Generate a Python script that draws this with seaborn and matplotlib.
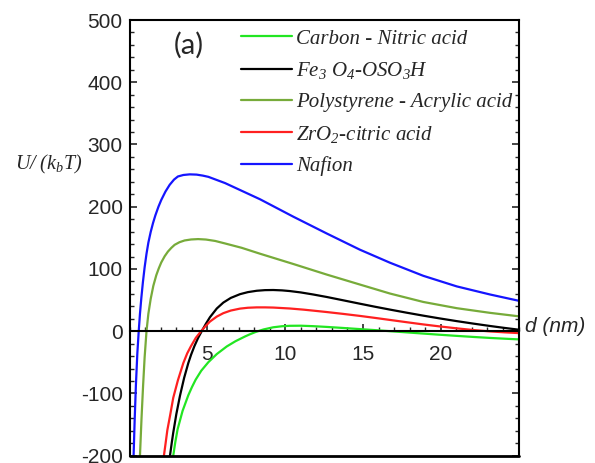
import matplotlib
matplotlib.use("Agg")
import matplotlib.pyplot as plt
import seaborn as sns
from matplotlib.ticker import MultipleLocator, FixedLocator

# ---- data ----
carbon_d = [2.8, 2.93, 3.08, 3.4, 3.77, 4.0, 4.24, 4.6, 5.06, 5.6, 6.24, 6.8, 7.42, 7.75, 8.1, 8.6, 9.23,
            9.8, 10.3, 11.0, 11.8, 12.67, 13.7, 14.8, 15.8, 16.74, 17.8, 18.88, 19.9, 21.03, 22.1, 23.17, 24.1, 25.0]
carbon_u = [-200, -178.5, -157.5, -128, -102.8, -89.9, -77.9, -63.5, -49.7, -36.7, -24.5, -16.1, -8.4, -4.7, -1.2, 2.8, 6.3,
            8.0, 8.7, 8.85, 8.1, 6.9, 5.25, 3.4, 1.7, 0.05, -1.85, -3.8, -5.6, -7.5, -9.2, -10.8, -12.0, -13.1]

fe_d = [2.59, 2.7, 2.8, 3.0, 3.23, 3.5, 3.77, 3.95, 4.16, 4.4, 4.63, 4.9, 5.16, 5.6, 6.02, 6.5, 7.09, 7.6,
        8.17, 8.7, 9.23, 9.8, 10.3, 11.0, 11.8, 12.67, 13.7, 14.8, 15.8, 16.74, 17.8, 18.88, 19.9, 21.03,
        22.1, 23.17, 24.1, 25.0]
fe_u = [-200, -180, -163, -133, -104, -75, -51, -37.6, -24, -10.7, 0, 12, 22.5, 36.5, 46, 53.5, 59.5, 62.8,
        65, 66, 66.2, 65.6, 64.5, 62.3, 59, 55, 49.8, 44.2, 39.2, 34.7, 29.8, 25, 20.7, 16.2,
        12.2, 8.4, 5.3, 2.5]

poly_d = [0.66, 0.76, 0.86, 0.96, 1.08, 1.2, 1.35, 1.52, 1.71, 1.87, 2.03, 2.25, 2.46, 2.68, 2.89, 3.2,
          3.53, 3.95, 4.4, 4.9, 5.5, 6.13, 7.2, 8.38, 10.52, 12.67, 14.8, 16.74, 18.88, 21.03, 23.17, 25.0]
poly_u = [-200, -140, -88, -42, 0, 28, 52, 73, 90, 101, 110.5, 120.5, 128, 134, 138.8, 143,
          145.8, 147.4, 148, 147.3, 145, 141, 134, 124.5, 108, 91, 75, 60.5, 47, 37, 29.5, 24]

zr_d = [2.2, 2.3, 2.42, 2.6, 2.8, 3.1, 3.45, 3.7, 3.94, 4.25, 4.59, 4.85, 5.16, 5.6, 6.02, 6.5, 7.09, 7.6,
        8.17, 8.7, 9.23, 10.3, 11.2, 12.02, 12.67, 13.7, 14.8, 15.8, 16.74, 17.8, 18.88, 19.9, 21.03,
        22.1, 23.17, 24.1, 25.0]
zr_u = [-200, -181.6, -159, -135, -107, -78.8, -51, -35.5, -24, -10.7, 0, 7.5, 15.5, 23.5, 29, 33.2, 36.3, 37.7,
        38.3, 38.3, 38, 36.5, 34.6, 32.5, 30.8, 27.9, 24.6, 21.3, 18.1, 14.5, 10.9, 7.8, 4.6,
        1.9, -0.3, -1.8, -3]

naf_d = [0.25, 0.32, 0.4, 0.49, 0.58, 0.66, 0.75, 0.85, 0.96, 1.08, 1.2, 1.35, 1.5, 1.65, 1.85, 2.03, 2.3,
         2.57, 2.85, 3.1, 3.45, 3.86, 4.3, 4.7, 5.06, 6.13, 8.38, 10.52, 12.67, 14.8, 16.74, 18.88,
         21.03, 23.17, 25.0]
naf_u = [-200, -142, -86, -36, 0, 28, 54, 79, 102.7, 124.3, 142.3, 159.5, 173.8, 186.1, 200.1, 210.9, 224.4,
         235.2, 243.6, 248.6, 251, 252, 251.6, 250, 248, 238, 212, 184, 157, 131, 110, 89,
         72, 59, 49]

labels = ["Carbon - Nitric acid",
          "Fe$_3$ O$_4$-OSO$_3$H",
          "Polystyrene - Acrylic acid",
          "ZrO$_2$-citric acid",
          "Nafion"]
colors = ["#22e622", "#000000", "#77ab3a", "#ff2020", "#1515ff"]
series = [(carbon_d, carbon_u), (fe_d, fe_u), (poly_d, poly_u), (zr_d, zr_u), (naf_d, naf_u)]

xticks_major = [5, 10, 15, 20]
yticks_major = [-200, -100, 0, 100, 200, 300, 400, 500]

# ---- style ----
sns.set_style("ticks")
plt.rcParams["font.family"] = ["Liberation Sans", "DejaVu Sans"]
plt.rcParams["axes.unicode_minus"] = False
plt.rcParams["mathtext.fontset"] = "custom"
plt.rcParams["mathtext.rm"] = "Liberation Serif:italic"
plt.rcParams["mathtext.it"] = "Liberation Serif:italic"
plt.rcParams["mathtext.bf"] = "Liberation Serif:italic:bold"

W, H = 595, 463
fig = plt.figure(figsize=(W / 100, H / 100), dpi=100)
left, right, top, bottom = 129.7, 518.5, 20.0, 455.7
ax = fig.add_axes([left / W, 1 - bottom / H, (right - left) / W, (bottom - top) / H])

for (d, u), lab, c in zip(series, labels, colors):
    sns.lineplot(x=d, y=u, ax=ax, color=c, lw=1.6, label=lab, estimator=None, sort=False)

ax.set_xlim(0, 25)
ax.set_ylim(-200, 500)

# x axis on the zero line
ax.spines["bottom"].set_position(("data", 0))
for s in ["left", "right", "top", "bottom"]:
    ax.spines[s].set_linewidth(1.5)
    ax.spines[s].set_color("black")
ax.plot([0, 1], [0, 0], transform=ax.transAxes, color="black", lw=2.0, clip_on=False)

ax.xaxis.set_major_locator(FixedLocator(xticks_major))
ax.xaxis.set_minor_locator(MultipleLocator(1))
ax.yaxis.set_major_locator(FixedLocator(yticks_major))
ax.yaxis.set_minor_locator(MultipleLocator(20))

ax.tick_params(axis="x", which="both", direction="in", top=False, bottom=True, labelsize=15, pad=10)
ax.tick_params(axis="y", which="both", direction="in", left=True, right=True, labelsize=15, pad=5)
ax.tick_params(which="major", length=5, width=1.2)
ax.tick_params(which="minor", length=3, width=1.0)
ax.set_xlabel("")
ax.set_ylabel("")

leg = ax.legend(loc="upper left", bbox_to_anchor=(241 / W, 1 - 29 / H), bbox_transform=fig.transFigure,
                frameon=False, prop={"family": "Liberation Serif", "style": "italic", "size": 15},
                handlelength=2.45, handletextpad=0.2, labelspacing=0.55, borderpad=0, borderaxespad=0)

fig.text(189 / W, 1 - 45 / H, "(a)", family="Lato", fontsize=21, ha="center", va="center")
fig.text(15 / W, 1 - 164 / H, r"$U/\ (k_bT)$", fontsize=14.5, ha="left", va="center")
fig.text(525 / W, 1 - 326 / H, "d (nm)", style="italic", fontsize=15, ha="left", va="center")

fig.savefig("out.png", dpi=100)
